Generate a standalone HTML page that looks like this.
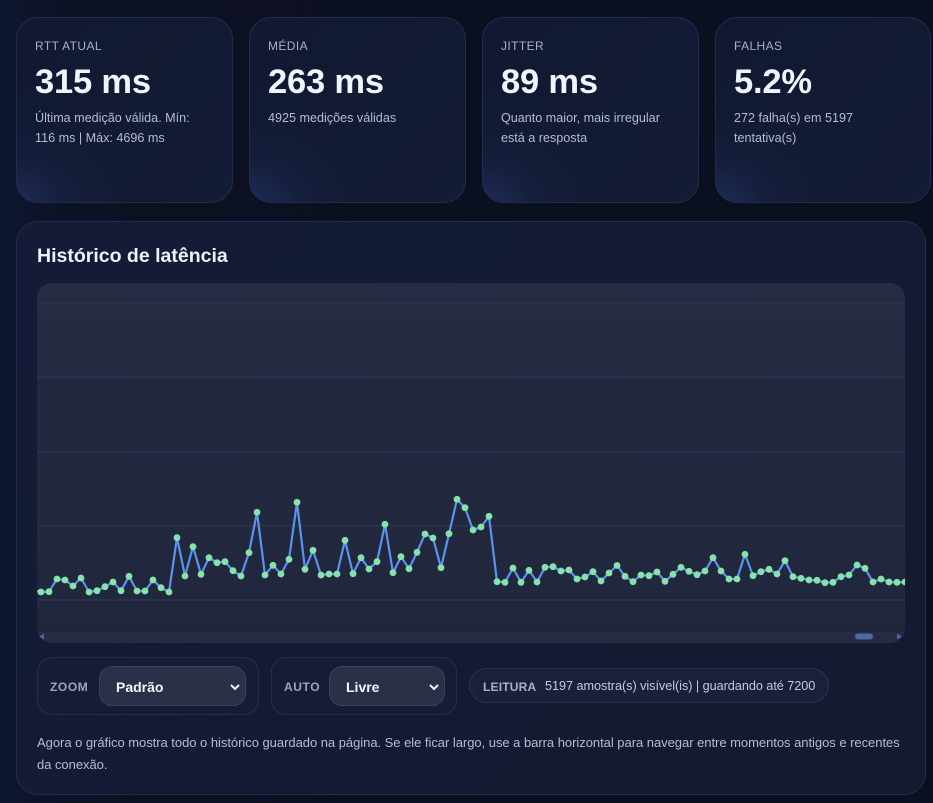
<!DOCTYPE html>
<html><head><meta charset="utf-8">
<style>
*{box-sizing:border-box;margin:0;padding:0}
html,body{width:933px;height:803px;overflow:hidden}
body{background:linear-gradient(90deg,#0f1630 0%,#0c1123 8%,#0b1020 50%,#0b1020 100%);font-family:"Liberation Sans",sans-serif;color:#e8ecf8;position:relative}
.card{position:absolute;top:17px;width:217px;height:186px;border-radius:22px;border:1px solid #222c4e;
background:radial-gradient(ellipse 110px 90px at 0% 100%,rgba(40,62,120,.5) 0%,rgba(30,45,90,.22) 45%,rgba(20,26,50,0) 100%),linear-gradient(135deg,#121831 0%,#131a33 60%,#141b34 100%);}
.lbl{position:absolute;left:18px;top:21px;font-size:12px;letter-spacing:.4px;color:#a7b1c9}
.val{position:absolute;left:18px;top:45px;font-size:34.5px;font-weight:bold;color:#f1f4fc;letter-spacing:-.2px}
.sub{position:absolute;left:18px;top:90px;font-size:12.6px;line-height:20px;color:#b4bcd2;white-space:nowrap}
.panel{position:absolute;left:16px;top:221px;width:910px;height:574px;border-radius:22px;border:1px solid #222c4e;background:linear-gradient(135deg,#151b36 0%,#131a31 100%)}
.title{position:absolute;left:37px;top:245px;font-size:19.5px;font-weight:bold;color:#eef1fb}
.chart{position:absolute;left:37px;top:283px;width:868px;height:360px;border-radius:15px;overflow:hidden;background:linear-gradient(180deg,#262c43 0%,#222840 30%,#21273b 100%)}
.box{position:absolute;top:657px;height:58px;border-radius:15px;border:1px solid #262e4a;background:#161c34}
.box .k{position:absolute;top:22px;font-size:12px;font-weight:bold;letter-spacing:.6px;color:#9aa5c3}
.sel{position:absolute;top:8px;height:40px;border-radius:13px;border:1px solid #39415e;background:#2a3048;}
.sel span{position:absolute;left:16px;top:12px;font-size:14px;font-weight:bold;color:#f4f6fc}
.sel svg{position:absolute;right:4px;top:16px}
.pill{position:absolute;left:469px;top:668px;width:360px;height:35px;border-radius:18px;border:1px solid #2a3250;background:#1a2039;white-space:nowrap}
.pill b{position:absolute;left:13px;top:11px;font-size:12px;color:#a7b1cb;letter-spacing:.2px}
.pill span{position:absolute;left:75px;top:10px;font-size:12.7px;color:#c3cadd;letter-spacing:-.05px}
.foot{position:absolute;left:37px;top:732px;font-size:13px;line-height:21.6px;color:#b4bcd2;white-space:nowrap;letter-spacing:-.035px}
</style></head><body>

<div class="card" style="left:16px"><div class="lbl">RTT ATUAL</div><div class="val">315 ms</div><div class="sub">Última medição válida. Mín:<br>116 ms | Máx: 4696 ms</div></div>
<div class="card" style="left:249px"><div class="lbl">MÉDIA</div><div class="val">263 ms</div><div class="sub">4925 medições válidas</div></div>
<div class="card" style="left:482px"><div class="lbl">JITTER</div><div class="val">89 ms</div><div class="sub">Quanto maior, mais irregular<br>está a resposta</div></div>
<div class="card" style="left:715px;width:216px"><div class="lbl">FALHAS</div><div class="val">5.2%</div><div class="sub">272 falha(s) em 5197<br>tentativa(s)</div></div>

<div class="panel"></div>
<div class="title">Histórico de latência</div>

<div class="chart">
<svg width="868" height="360" viewBox="37 283 868 360" xmlns="http://www.w3.org/2000/svg">
<g stroke="#2a314a" stroke-width="2">
<line x1="37" y1="303.3" x2="905" y2="303.3"/>
<line x1="37" y1="377.5" x2="905" y2="377.5"/>
<line x1="37" y1="451.7" x2="905" y2="451.7"/>
<line x1="37" y1="525.8" x2="905" y2="525.8"/>
<line x1="37" y1="600" x2="905" y2="600"/>
</g>
<rect x="37" y="632" width="868" height="11" fill="#262c44"/>
<polygon points="39,636.5 44,633.5 44,639.5" fill="#4a68a6"/>
<polygon points="902,636.5 897,633.5 897,639.5" fill="#4a68a6"/>
<rect x="855" y="633.5" width="18" height="6" rx="3" fill="#4b69a5"/>
<polyline fill="none" stroke="#5b93ee" stroke-width="2.2" stroke-linejoin="round" points="33,590 41,592 49,591.7 57,579 65,580 73,586 81,578 89,592 97,590.7 105,586.7 113,582 121,590.7 129,576.3 137,591 145,591 153,580 161,587.7 169,592 177,537.7 185,576 193,546.7 201,574.3 209,557.7 217,562.7 225,561.7 233,570.7 241,576 249,552.7 257,512.3 265,575 273,565.3 281,574 289,559.3 297,502.3 305,569.3 313,550.3 321,575 329,574 337,574 345,540.3 353,573.7 361,557.7 369,569 377,561.7 385,524.3 393,572.7 401,556.7 409,568.7 417,552.3 425,534 433,538 441,567.7 449,533.7 457,499.3 465,507.7 473,530 481,527 489,516.3 497,581.7 505,582.3 513,568 521,582.3 529,570.3 537,582 545,567.3 553,566.7 561,571 569,570 577,579 585,577 593,571.7 601,581 609,573 617,565.5 625,576.3 633,581.7 641,575 649,575.7 657,572 665,581.3 673,574.3 681,567.3 689,571.3 697,574.7 705,571 713,557.7 721,571 729,579 737,579 745,554.3 753,575.7 761,571.7 769,569.3 777,574 785,560.7 793,576.7 801,578.3 809,580 817,580.3 825,582.7 833,582.3 841,576.7 849,575 857,565 865,568.3 873,582 881,579 889,582 897,582.3 905,582"/>
<g fill="#86e3aa" id="pts"></g>
</svg>
</div>

<div class="box" style="left:37px;width:222px"><div class="k" style="left:12px">ZOOM</div>
<div class="sel" style="left:61px;width:147px"><span>Padrão</span><svg width="12" height="8" viewBox="0 0 12 8"><path d="M2 2 L6 6 L10 2" stroke="#f0f2f8" stroke-width="2" fill="none"/></svg></div></div>
<div class="box" style="left:271px;width:186px"><div class="k" style="left:12px">AUTO</div>
<div class="sel" style="left:57px;width:116px"><span>Livre</span><svg width="12" height="8" viewBox="0 0 12 8"><path d="M2 2 L6 6 L10 2" stroke="#f0f2f8" stroke-width="2" fill="none"/></svg></div></div>
<div class="pill"><b>LEITURA</b><span>5197 amostra(s) visível(is) | guardando até 7200</span></div>

<div class="foot">Agora o gráfico mostra todo o histórico guardado na página. Se ele ficar largo, use a barra horizontal para navegar entre momentos antigos e recentes<br>da conexão.</div>

<script>
(function(){
var p=document.querySelector('polyline').getAttribute('points').trim().split(/\s+/);
var g=document.getElementById('pts');var s='';
p.forEach(function(q){var a=q.split(',');s+='<circle cx="'+a[0]+'" cy="'+a[1]+'" r="3.4"/>';});
g.innerHTML=s;
})();
</script>
</body></html>
